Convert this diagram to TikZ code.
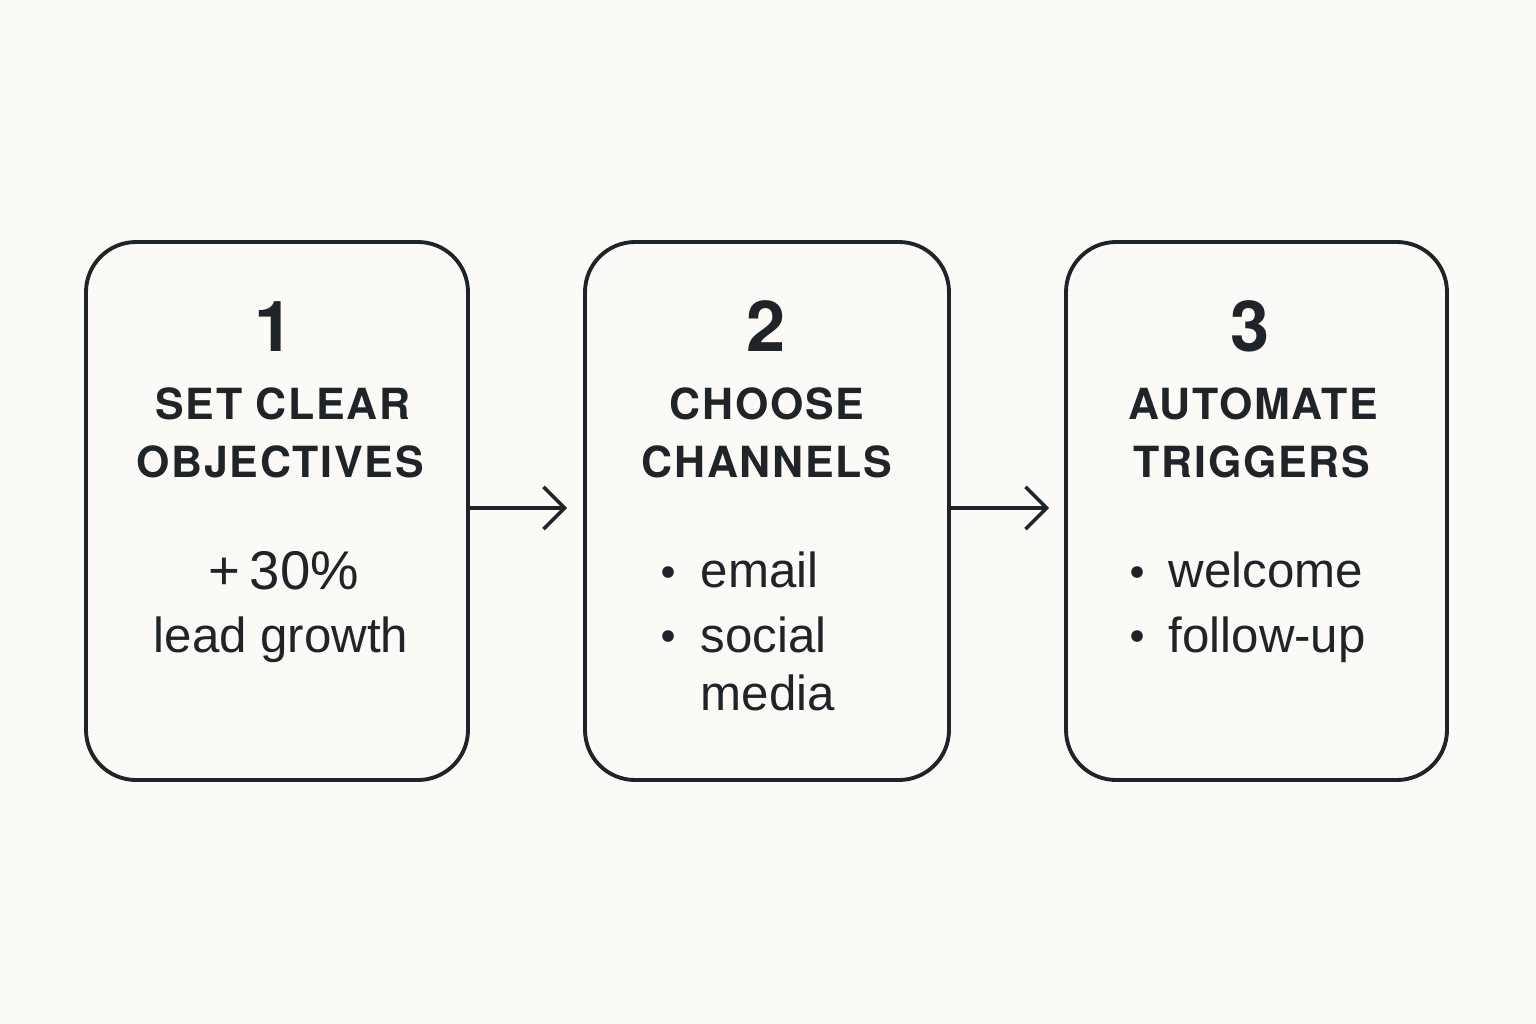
\documentclass[tikz,border=0pt]{standalone}
\usepackage{fontspec}
\setmainfont{Liberation Sans}
\newfontfamily\titlefont[LetterSpace=4]{TeX Gyre Heros}
\newfontfamily\numfont{TeX Gyre Heros}
\usetikzlibrary{arrows.meta}
\definecolor{bg}{HTML}{FBFAF6}
\definecolor{ink}{HTML}{1E2428}
\tikzset{
  card/.style={draw=ink, line width=1.1pt, rounded corners=0.5cm},
  num/.style={anchor=base, text=ink, inner sep=0pt, font=\numfont\bfseries\fontsize{20}{24}\selectfont},
  ttl/.style={anchor=base, text=ink, inner sep=0pt, font=\titlefont\bfseries\fontsize{12.2}{16}\selectfont},
  body/.style={anchor=base, text=ink, inner sep=0pt, font=\fontsize{14}{17}\selectfont},
  big/.style={anchor=base, text=ink, inner sep=0pt, font=\fontsize{15.5}{18}\selectfont},
  bodyl/.style={anchor=base west, text=ink, inner sep=0pt, font=\fontsize{14}{17}\selectfont},
  dot/.style={circle, fill=ink, inner sep=0pt, minimum size=3.3pt},
  flow/.style={draw=ink, line width=1pt, -{Straight Barb[length=6pt,width=12pt,line width=1pt]}}
}
\begin{document}
\begin{tikzpicture}[x=0.01cm,y=-0.01cm]
\fill[bg] (0,0) rectangle (1536,1024);
\useasboundingbox (0,0) rectangle (1536,1024);
% cards
\draw[card] (86,242) rectangle (468,780);
\draw[card] (585,242) rectangle (949,780);
\draw[card] (1066,242) rectangle (1447,780);
\coordinate (c1r) at (468,508);
\coordinate (c2l) at (585,508);
\coordinate (c2r) at (949,508);
\coordinate (c3l) at (1066,508);
\coordinate (a1e) at (567,508);
\coordinate (a2e) at (1049,508);
\draw[flow] (c1r) -- (a1e);
\draw[flow] (c2r) -- (a2e);
% card 1
\node[num] (n1) at (274,351) {1};
\node[ttl] (t1a) at (283,419) {SET CLEAR};
\node[ttl] (t1b) at (280,477) {OBJECTIVES};
\node[big] (b1a) at (284,589) {+\,30\%};
\node[body] (b1b) at (281,652) {lead growth};
% card 2
\node[num] (n2) at (766,351) {2};
\node[ttl] (t2a) at (767,419) {CHOOSE};
\node[ttl] (t2b) at (767,477) {CHANNELS};
\node[bodyl] (b2a) at (700,587) {email};
\node[bodyl] (b2b) at (700,652) {social};
\node[bodyl] (b2c) at (700,710) {media};
\node[dot] (d2a) at (668,572) {};
\node[dot] (d2b) at (668,636) {};
% card 3
\node[num] (n3) at (1250,351) {3};
\node[ttl] (t3a) at (1253,419) {AUTOMATE};
\node[ttl] (t3b) at (1252,477) {TRIGGERS};
\node[bodyl] (b3a) at (1168,587) {welcome};
\node[bodyl] (b3b) at (1168,652) {follow-up};
\node[dot] (d3a) at (1137,572) {};
\node[dot] (d3b) at (1137,636) {};
\end{tikzpicture}
\end{document}
